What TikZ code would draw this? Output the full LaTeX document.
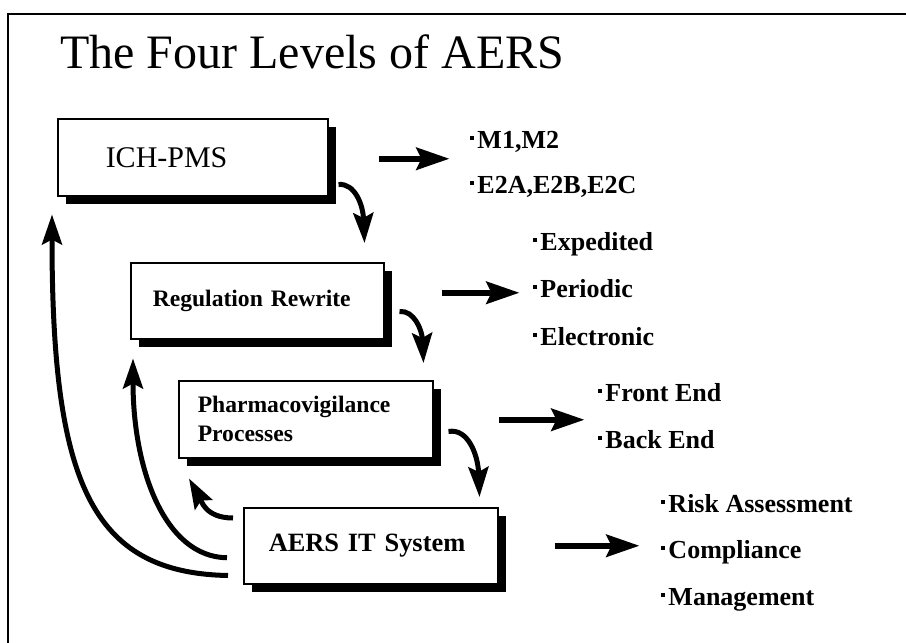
\documentclass[tikz,border=0pt]{standalone}
\usepackage{fontspec}
\setmainfont{Liberation Serif}
\usetikzlibrary{arrows.meta,shadows}
\newcommand\mybul{\rule[0.3em]{0.16em}{0.16em}\hspace{0.12em}}
\begin{document}
\begin{tikzpicture}[x=1pt,y=-1pt,
  levelbox/.style={draw, fill=white, line width=1.5pt, anchor=north west, align=left,
    inner ysep=0pt,
    drop shadow={shadow xshift=8pt, shadow yshift=-8pt, fill=black, opacity=1}},
  item/.style={anchor=base west, inner sep=0pt, font=\fontsize{26}{30}\selectfont\bfseries},
  bigarrow/.style={line width=6pt, -{Stealth[length=33pt,width=22pt,inset=5pt]}},
  curvearrow/.style={line width=5pt, -{Stealth[length=30pt,width=20pt,inset=5pt]}}
]
\useasboundingbox (0,0) rectangle (906,643);
\fill[white] (0,0) rectangle (906,643);
\draw[line width=1.5pt] (8,643) -- (8,14) -- (906,14);

\node[anchor=base west, inner sep=0pt, font=\fontsize{48}{56}\selectfont] (title) at (60,68) {The Four Levels of AERS};

\node[levelbox, minimum height=77pt, text width=174pt, inner xsep=48pt,
      font=\fontsize{30}{34}\selectfont] (ich) at (57,118) {ICH-PMS};
\node[levelbox, minimum height=76pt, text width=209pt, inner xsep=22pt,
      font=\fontsize{23.6}{29}\selectfont\bfseries] (reg) at (130,262) {Regulation Rewrite};
\node[levelbox, minimum height=77pt, text width=216pt, inner xsep=19pt,
      font=\fontsize{23.6}{29}\selectfont\bfseries] (pharma) at (178,380) {Pharmacovigilance\\Processes};
\node[levelbox, minimum height=76pt, text width=204pt, inner xsep=25pt,
      font=\fontsize{26.4}{30}\selectfont\bfseries] (aers) at (243,507) {AERS IT System};

% lists
\node[item] (m1) at (470,148) {\mybul M1,M2};
\node[item] (e2) at (470,193) {\mybul E2A,E2B,E2C};
\node[item] (exp) at (533,250) {\mybul Expedited};
\node[item] (per) at (533,297) {\mybul Periodic};
\node[item] (ele) at (533,345) {\mybul Electronic};
\node[item] (fe) at (598,401) {\mybul Front End};
\node[item] (be) at (598,448) {\mybul Back End};
\node[item] (ra) at (661,512) {\mybul Risk Assessment};
\node[item] (co) at (661,558) {\mybul Compliance};
\node[item] (ma) at (661,605) {\mybul Management};

% straight arrows
\draw[bigarrow] ([shift={(50,1.5)}]ich.east) -- ++(71,0);
\draw[bigarrow] ([shift={(57,-8)}]reg.east) -- ++(78,0);
\draw[bigarrow] ([shift={(65,0.5)}]pharma.east) -- ++(86,0);
\draw[bigarrow] ([shift={(56,0)}]aers.east) -- ++(85,0);

% downward curved arrows
\draw[curvearrow] ([shift={(10,-12)}]ich.south east) .. controls (355,183) and (363,205) .. ([shift={(-20,-19)}]reg.north east);
\draw[curvearrow] ([shift={(15,-28)}]reg.south east) .. controls (414,310) and (422,330) .. ([shift={(-10,-17)}]pharma.north east);
\draw[curvearrow] ([shift={(15,-27)}]pharma.south east) .. controls (468,428) and (478,455) .. ([shift={(-19,-10)}]aers.north east);

% feedback arrows
\draw[curvearrow] ([shift={(-10,11)}]aers.north west) .. controls (205,518) and (201,500) .. ([shift={(11,20)}]pharma.south west);
\draw[curvearrow] ([shift={(-16,12)}]aers.west) .. controls (165,557) and (133,470) .. ([shift={(3,19)}]reg.south west);
\draw[curvearrow] ([shift={(-15,-9)}]aers.south west) .. controls (90,573) and (52,480) .. ([shift={(-5,18)}]ich.south west);
\end{tikzpicture}
\end{document}
